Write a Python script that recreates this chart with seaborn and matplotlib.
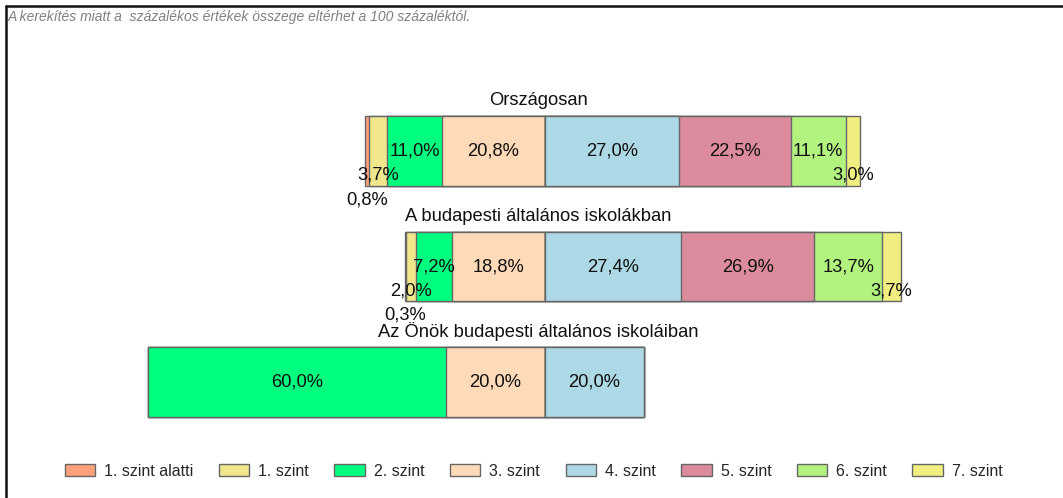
import matplotlib
matplotlib.use("Agg")
import matplotlib.pyplot as plt
import seaborn as sns
import pandas as pd
from matplotlib.patches import Patch
from matplotlib.lines import Line2D

# Data
groups = ["Országosan", "A budapesti általános iskolákban", "Az Önök budapesti általános iskoláiban"]
levels = ["1. szint alatti", "1. szint", "2. szint", "3. szint",
          "4. szint", "5. szint", "6. szint", "7. szint"]
orszagos = [0.8, 3.7, 11.0, 20.8, 27.0, 22.5, 11.1, 3.0]
budapest = [0.3, 2.0, 7.2, 18.8, 27.4, 26.9, 13.7, 3.7]
onok = [0.0, 0.0, 60.0, 20.0, 20.0, 0.0, 0.0, 0.0]
colors = ["#FFA07A", "#F0E68C", "#00FF7F", "#FFDAB9",
          "#ADD8E6", "#DB8B9C", "#B2F27F", "#F0EE80"]
note = "A kerekítés miatt a  százalékos értékek összege eltérhet a 100 százaléktól."

df = pd.DataFrame([orszagos, budapest, onok], index=groups, columns=levels)

sns.set_theme(style="white")
plt.rcParams["font.family"] = ["Liberation Sans", "DejaVu Sans"]

fig = plt.figure(figsize=(10.63, 4.98), dpi=100)
ax = fig.add_axes([0, 0, 1, 1])

bar_w = 0.606
edge = "#666666"
fs = 13.2

# left side: levels 0..3, stacked towards the centre (negative)
left_ext = {}
for k in range(4):
    left_ext[k] = -df.iloc[:, k:4].sum(axis=1)
for k in range(4):
    sns.barplot(x=left_ext[k].values, y=groups, orient="h", color=colors[k],
                width=bar_w, edgecolor=edge, linewidth=1, errorbar=None,
                saturation=1, ax=ax)
# right side: levels 4..7
right_ext = {}
for k in range(4, 8):
    right_ext[k] = df.iloc[:, 4:k + 1].sum(axis=1)
for k in range(7, 3, -1):
    sns.barplot(x=right_ext[k].values, y=groups, orient="h", color=colors[k],
                width=bar_w, edgecolor=edge, linewidth=1, errorbar=None,
                saturation=1, ax=ax)

# value labels (small segments are staggered below the bar)
for i, g in enumerate(groups):
    lvl = 0
    for k in range(3, -1, -1):
        v = df.loc[g].iloc[k]
        if v <= 0:
            continue
        xc = left_ext[k].iloc[i] + v / 2
        if v < 5:
            lvl += 1
        ax.text(xc, i + lvl * 0.21, f"{v:.1f}".replace(".", ",") + "%",
                ha="center", va="center", fontsize=fs, color="#111111")
    lvl = 0
    for k in range(4, 8):
        v = df.loc[g].iloc[k]
        if v <= 0:
            continue
        xc = right_ext[k].iloc[i] - v / 2
        if v < 5:
            lvl += 1
        ax.text(xc, i + lvl * 0.21, f"{v:.1f}".replace(".", ",") + "%",
                ha="center", va="center", fontsize=fs, color="#111111")
    ax.text(-1.4, i - bar_w / 2 - 0.13, g, ha="center", va="center",
            fontsize=fs, color="#111111")

px = 4.96
ax.set_xlim(-545 / px, (1063 - 545) / px)
ax.set_ylim((498 - 151) / 115.5, -151 / 115.5)
ax.axis("off")

handles = [Patch(facecolor=c, edgecolor=edge, linewidth=1) for c in colors]
fig.legend(handles, levels, loc="center", bbox_to_anchor=(0.502, 1 - 471 / 498),
           ncol=8, frameon=False, fontsize=11.5, handlelength=1.9, handleheight=0.8,
           handletextpad=0.56, columnspacing=1.6)

fig.text(8 / 1063, 1 - 17 / 498, note, ha="left", va="center", fontsize=10,
         style="italic", color="#808080")

# frame lines
fig.add_artist(Line2D([6 / 1063, 6 / 1063], [0, 1 - 6 / 498], color="#111111", lw=1.8))
fig.add_artist(Line2D([6 / 1063, 1], [1 - 6 / 498, 1 - 6 / 498], color="#111111", lw=1.8))

fig.savefig("out.png", dpi=100)
